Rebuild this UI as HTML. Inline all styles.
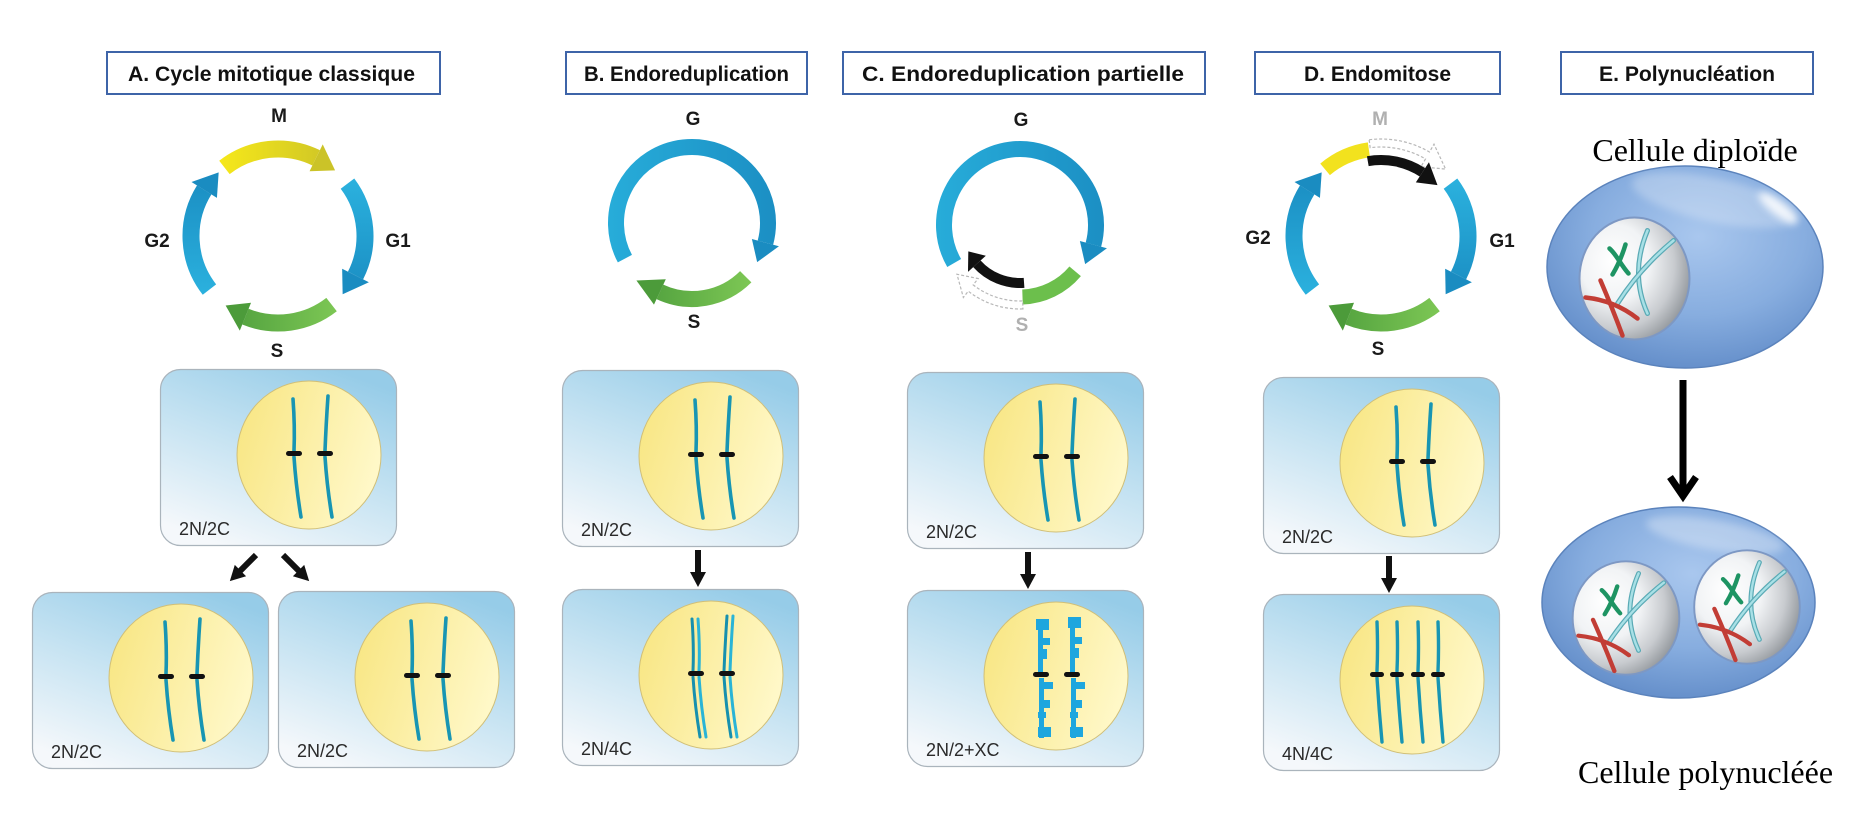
<!DOCTYPE html>
<html><head><meta charset="utf-8">
<style>
html,body{margin:0;padding:0;background:#fff;}
svg{display:block;}
.t{font-family:"Liberation Sans",Arial,sans-serif;font-weight:bold;font-size:21px;fill:#111;}
.lb{font-family:"Liberation Sans",Arial,sans-serif;font-weight:bold;font-size:19px;fill:#1a1a1a;text-anchor:middle;}
.cl{font-family:"Liberation Sans",Arial,sans-serif;font-size:18px;fill:#2a2a2a;}
.sf{font-family:"Liberation Serif","Times New Roman",serif;font-size:32px;fill:#000;}
</style></head><body>
<svg width="1864" height="835" viewBox="0 0 1864 835" xmlns="http://www.w3.org/2000/svg" xmlns:xlink="http://www.w3.org/1999/xlink">
<defs>
<linearGradient id="cellG" x1="0.75" y1="0" x2="0.25" y2="1">
<stop offset="0" stop-color="#96cce8"/><stop offset="0.5" stop-color="#c6e3f2"/><stop offset="1" stop-color="#f5f8fb"/>
</linearGradient>
<linearGradient id="nucG" x1="0" y1="0.2" x2="1" y2="0.5">
<stop offset="0" stop-color="#f8e683"/><stop offset="1" stop-color="#fff8c8"/>
</linearGradient>
<linearGradient id="yelA" gradientUnits="userSpaceOnUse" x1="220" y1="0" x2="335" y2="0">
<stop offset="0" stop-color="#f6e81a"/><stop offset="1" stop-color="#cdc427"/>
</linearGradient>
<linearGradient id="bluG1" gradientUnits="userSpaceOnUse" x1="0" y1="180" x2="0" y2="295">
<stop offset="0" stop-color="#2bb1de"/><stop offset="1" stop-color="#1a8dc2"/>
</linearGradient>
<linearGradient id="bluG2" gradientUnits="userSpaceOnUse" x1="0" y1="295" x2="0" y2="175">
<stop offset="0" stop-color="#2bb1de"/><stop offset="1" stop-color="#1a8dc2"/>
</linearGradient>
<linearGradient id="grnA" gradientUnits="userSpaceOnUse" x1="335" y1="0" x2="225" y2="0">
<stop offset="0" stop-color="#7cc654"/><stop offset="1" stop-color="#4f9f3d"/>
</linearGradient>
<linearGradient id="grnD" gradientUnits="userSpaceOnUse" x1="1438" y1="0" x2="1328" y2="0">
<stop offset="0" stop-color="#7cc654"/><stop offset="1" stop-color="#4f9f3d"/>
</linearGradient>
<linearGradient id="grnB" gradientUnits="userSpaceOnUse" x1="748" y1="0" x2="640" y2="0">
<stop offset="0" stop-color="#7cc654"/><stop offset="1" stop-color="#4f9f3d"/>
</linearGradient>
<linearGradient id="bluB" gradientUnits="userSpaceOnUse" x1="610" y1="0" x2="780" y2="0">
<stop offset="0" stop-color="#27acd9"/><stop offset="1" stop-color="#1b8ec3"/>
</linearGradient>
<linearGradient id="bluC" gradientUnits="userSpaceOnUse" x1="937" y1="0" x2="1110" y2="0">
<stop offset="0" stop-color="#27acd9"/><stop offset="1" stop-color="#1b8ec3"/>
</linearGradient>
<radialGradient id="cellE" cx="0.55" cy="0.35" r="0.65">
<stop offset="0" stop-color="#a9c7ee"/><stop offset="0.6" stop-color="#87addf"/><stop offset="1" stop-color="#6690cb"/>
</radialGradient>
<radialGradient id="nucE" cx="0.35" cy="0.4" r="0.7" fx="0.3" fy="0.35">
<stop offset="0" stop-color="#ffffff"/><stop offset="0.45" stop-color="#f1f3f5"/><stop offset="0.75" stop-color="#c8cbcf"/><stop offset="1" stop-color="#8e9398"/>
</radialGradient>
<filter id="blur" x="-50%" y="-50%" width="200%" height="200%"><feGaussianBlur stdDeviation="4"/></filter>

<g id="cb"><rect x="0.5" y="0.5" width="236" height="176" rx="20" fill="url(#cellG)" stroke="#aab4bc" stroke-width="1.2"/><ellipse cx="149" cy="86" rx="72" ry="74" fill="url(#nucG)" stroke="#d0bf78" stroke-width="1"/></g>
<g id="c2" fill="none" stroke="#1895b3" stroke-width="3.6" stroke-linecap="round">
<path d="M133,30 Q135,57 134,82"/><path d="M134,88 Q136,118 141,148"/>
<path d="M168,27 Q166,56 165,82"/><path d="M165,88 Q167,118 172,148"/>
</g>
<g id="cen2" fill="#111"><rect x="126" y="82" width="16" height="5" rx="2.5"/><rect x="157" y="82" width="16" height="5" rx="2.5"/></g>

<g id="c4b" fill="none" stroke-linecap="round" stroke-width="3">
<path d="M130,30 Q132,57 131,82" stroke="#1790ae"/><path d="M136,30 Q138,57 137,82" stroke="#2ab4d6"/>
<path d="M131,88 Q133,118 138,148" stroke="#1790ae"/><path d="M137,88 Q139,118 144,148" stroke="#2ab4d6"/>
<path d="M165,27 Q163,56 162,82" stroke="#1790ae"/><path d="M171,27 Q169,56 168,82" stroke="#2ab4d6"/>
<path d="M162,88 Q164,118 169,148" stroke="#1790ae"/><path d="M168,88 Q170,118 175,148" stroke="#2ab4d6"/>
</g>

<g id="cxc" fill="#1ea6de">
<rect x="131" y="30" width="5" height="52"/><rect x="129" y="29" width="13" height="11"/><rect x="131" y="48" width="12" height="7"/><rect x="131" y="59" width="9" height="10"/>
<rect x="132" y="88" width="5" height="60"/><rect x="132" y="92" width="14" height="7"/><rect x="132" y="110" width="11" height="8"/><rect x="131" y="122" width="8" height="6"/><rect x="131" y="137" width="13" height="10"/>
<rect x="163" y="28" width="5" height="54"/><rect x="161" y="27" width="13" height="11"/><rect x="163" y="47" width="12" height="7"/><rect x="163" y="58" width="9" height="10"/>
<rect x="164" y="88" width="5" height="60"/><rect x="164" y="92" width="14" height="7"/><rect x="164" y="110" width="11" height="8"/><rect x="163" y="122" width="8" height="6"/><rect x="163" y="137" width="13" height="10"/>
</g>

<g id="c4d">
<g fill="none" stroke="#1895b3" stroke-width="3.4" stroke-linecap="round">
<path d="M114,28 Q115,55 114,77"/><path d="M114,84 Q116,116 119,148"/>
<path d="M134,28 Q135,55 134,77"/><path d="M134,84 Q136,116 139,148"/>
<path d="M155,28 Q156,55 155,77"/><path d="M155,84 Q157,116 160,148"/>
<path d="M175,28 Q176,55 175,77"/><path d="M175,84 Q177,116 180,148"/>
</g>
<g fill="#111"><rect x="107" y="78" width="14" height="5" rx="2.5"/><rect x="127" y="78" width="14" height="5" rx="2.5"/><rect x="148" y="78" width="14" height="5" rx="2.5"/><rect x="168" y="78" width="14" height="5" rx="2.5"/></g>
</g>

<g id="ech" fill="none" stroke-linecap="round">
<path d="M13,-48 Q-5,-5 13,35" stroke="#5aaab5" stroke-width="5"/>
<path d="M13,-48 Q-5,-5 13,35" stroke="#a8e0e6" stroke-width="2.5"/>
<path d="M39,-38 Q5,-10 -17,25" stroke="#5aaab5" stroke-width="5"/>
<path d="M39,-38 Q5,-10 -17,25" stroke="#a8e0e6" stroke-width="2.5"/>
<path d="M-49,19 Q-20,22 3,40" stroke="#c23d35" stroke-width="4.5"/>
<path d="M-34,2 Q-22,30 -12,57" stroke="#c23d35" stroke-width="4.5"/>
<path d="M-25,-30 C-18,-24 -14,-14 -6,-5" stroke="#1e9463" stroke-width="4.5"/>
<path d="M-9,-34 C-12,-24 -16,-14 -22,-4" stroke="#1e9463" stroke-width="4.5"/>
</g>

<g id="darr"><rect x="-3" y="0" width="6" height="24"/><polygon points="-8,22 8,22 0,37"/></g>
</defs>

<!-- Title boxes -->
<g fill="#fff" stroke="#3e64a8" stroke-width="2">
<rect x="107" y="52" width="333" height="42"/>
<rect x="566" y="52" width="241" height="42"/>
<rect x="843" y="52" width="362" height="42"/>
<rect x="1255" y="52" width="245" height="42"/>
<rect x="1561" y="52" width="252" height="42"/>
</g>
<text class="t" x="128" y="81" textLength="287" lengthAdjust="spacingAndGlyphs">A. Cycle mitotique classique</text>
<text class="t" x="584" y="81" textLength="205" lengthAdjust="spacingAndGlyphs">B. Endoreduplication</text>
<text class="t" x="862" y="81" textLength="322" lengthAdjust="spacingAndGlyphs">C. Endoreduplication partielle</text>
<text class="t" x="1304" y="81" textLength="147" lengthAdjust="spacingAndGlyphs">D. Endomitose</text>
<text class="t" x="1599" y="81" textLength="176" lengthAdjust="spacingAndGlyphs">E. Polynucléation</text>

<!-- Cycle A -->
<g fill="none" stroke-width="17">
<path d="M224.43,167.44 A87,87 0 0 1 316.14,157.80" stroke="url(#yelA)"/>
<path d="M347.48,183.64 A87,87 0 0 1 355.52,275.50" stroke="url(#bluG1)"/>
<path d="M331.57,304.56 A87,87 0 0 1 245.41,316.67" stroke="url(#grnA)"/>
<path d="M209.44,289.56 A87,87 0 0 1 204.22,189.90" stroke="url(#bluG2)"/>
</g>
<polygon points="322.72,144.32 335.08,170.34 309.56,171.29" fill="#cbc328"/>
<polygon points="368.88,282.31 342.65,294.21 342.15,268.69" fill="#1a8cc1"/>
<polygon points="239.79,330.57 225.64,305.48 251.03,302.76" fill="#4c9b3a"/>
<polygon points="191.50,181.95 218.67,172.37 216.94,197.85" fill="#1a8cc1"/>
<text class="lb" x="279" y="122">M</text>
<text class="lb" x="157" y="247">G2</text>
<text class="lb" x="398" y="247">G1</text>
<text class="lb" x="277" y="357">S</text>

<!-- Cycle B -->
<path d="M624.90,258.68 A76,76 0 1 1 765.41,242.67" fill="none" stroke="url(#bluB)" stroke-width="16"/>
<polygon points="778.93,246.29 757.15,262.14 751.89,239.05" fill="#1a8cc1"/>
<path d="M745.74,276.74 A76,76 0 0 1 659.88,291.88" fill="none" stroke="url(#grnB)" stroke-width="16"/>
<polygon points="653.97,304.57 636.42,280.54 665.80,279.19" fill="#4c9b3a"/>
<text class="lb" x="693" y="125">G</text>
<text class="lb" x="694" y="328">S</text>

<!-- Cycle C -->
<path d="M954.18,263 A76,76 0 1 1 1093.41,244.67" fill="none" stroke="url(#bluC)" stroke-width="16"/>
<polygon points="1106.93,248.29 1085.15,264.14 1079.89,241.05" fill="#1a8cc1"/>
<path d="M1075.15,271.28 A72,72 0 0 1 1022.51,296.96" fill="none" stroke="#6cbf4c" stroke-width="15"/>
<path d="M1022.93,308.95 A84,84 0 0 1 968.28,291.19 L963.36,297.50 L956.96,274.26 L978.13,278.58 L973.21,284.89 A76,76 0 0 0 1022.65,300.95 Z" fill="#fff" stroke="#b8b8b8" stroke-width="1.2" stroke-dasharray="3 2"/>
<path d="M1024.05,282.86 A58,58 0 0 1 976.90,263.81" fill="none" stroke="#111" stroke-width="10"/>
<polygon points="967.98,271.84 968.32,251.33 985.82,255.78" fill="#111"/>
<text class="lb" x="1021" y="126">G</text>
<text class="lb" x="1022" y="331" style="fill:#b0b0b0">S</text>

<!-- Cycle D -->
<g fill="none" stroke-width="17">
<path d="M1450.48,183.64 A87,87 0 0 1 1458.52,275.50" stroke="url(#bluG1)"/>
<path d="M1434.57,304.56 A87,87 0 0 1 1348.41,316.67" stroke="url(#grnD)"/>
<path d="M1312.44,289.56 A87,87 0 0 1 1307.22,189.90" stroke="url(#bluG2)"/>
</g>
<polygon points="1471.88,282.31 1445.65,294.21 1445.15,268.69" fill="#1a8cc1"/>
<polygon points="1342.79,330.57 1328.64,305.48 1354.03,302.76" fill="#4c9b3a"/>
<polygon points="1294.50,181.95 1321.67,172.37 1319.94,197.85" fill="#1a8cc1"/>
<path d="M1325.08,169.36 A87,87 0 0 1 1368.89,149.85" fill="none" stroke="#f2e21e" stroke-width="15"/>
<path d="M1369.18,139.73 A97,97 0 0 1 1429.5,151.99 L1434.0,144.20 L1445.61,169.10 L1421.0,166.72 L1425.5,158.93 A89,89 0 0 0 1370.15,147.67 Z" fill="#fff" stroke="#b8b8b8" stroke-width="1.2" stroke-dasharray="3 2"/>
<path d="M1367.80,161.16 A76,76 0 0 1 1422.39,172.26" fill="none" stroke="#111" stroke-width="10"/>
<polygon points="1428.93,162.19 1437.48,185.15 1415.85,182.32" fill="#111"/>
<text class="lb" x="1380" y="125" style="fill:#b0b0b0">M</text>
<text class="lb" x="1258" y="244">G2</text>
<text class="lb" x="1502" y="247">G1</text>
<text class="lb" x="1378" y="355">S</text>

<!-- Cells A -->
<g transform="translate(160,369)"><use xlink:href="#cb"/><use xlink:href="#c2"/><use xlink:href="#cen2"/><text class="cl" x="19" y="166">2N/2C</text></g>
<g transform="translate(32,592)"><use xlink:href="#cb"/><use xlink:href="#c2"/><use xlink:href="#cen2"/><text class="cl" x="19" y="166">2N/2C</text></g>
<g transform="translate(278,591)"><use xlink:href="#cb"/><use xlink:href="#c2"/><use xlink:href="#cen2"/><text class="cl" x="19" y="166">2N/2C</text></g>
<g fill="#111">
<g transform="translate(256,555) rotate(45)"><use xlink:href="#darr"/></g>
<g transform="translate(283,555) rotate(-45)"><use xlink:href="#darr"/></g>
</g>

<!-- Cells B -->
<g transform="translate(562,370)"><use xlink:href="#cb"/><use xlink:href="#c2"/><use xlink:href="#cen2"/><text class="cl" x="19" y="166">2N/2C</text></g>
<g transform="translate(562,589)"><use xlink:href="#cb"/><use xlink:href="#c4b"/><use xlink:href="#cen2"/><text class="cl" x="19" y="166">2N/4C</text></g>
<g fill="#111" transform="translate(698,550)"><use xlink:href="#darr"/></g>

<!-- Cells C -->
<g transform="translate(907,372)"><use xlink:href="#cb"/><use xlink:href="#c2"/><use xlink:href="#cen2"/><text class="cl" x="19" y="166">2N/2C</text></g>
<g transform="translate(907,590)"><use xlink:href="#cb"/><use xlink:href="#cxc"/><use xlink:href="#cen2"/><text class="cl" x="19" y="166">2N/2+XC</text></g>
<g fill="#111" transform="translate(1028,552)"><use xlink:href="#darr"/></g>

<!-- Cells D -->
<g transform="translate(1263,377)"><use xlink:href="#cb"/><use xlink:href="#c2"/><use xlink:href="#cen2"/><text class="cl" x="19" y="166">2N/2C</text></g>
<g transform="translate(1263,594)"><use xlink:href="#cb"/><use xlink:href="#c4d"/><text class="cl" x="19" y="166">4N/4C</text></g>
<g fill="#111" transform="translate(1389,556)"><use xlink:href="#darr"/></g>

<!-- Panel E -->
<text class="sf" x="1695" y="161" text-anchor="middle">Cellule diploïde</text>
<ellipse cx="1685" cy="267" rx="138" ry="101" fill="url(#cellE)" stroke="#5b83bc" stroke-width="1.5"/>
<ellipse cx="1715" cy="200" rx="85" ry="22" fill="#fff" opacity="0.25" filter="url(#blur)" transform="rotate(12 1715 200)"/>
<ellipse cx="1778" cy="208" rx="24" ry="7" fill="#fff" opacity="0.85" filter="url(#blur)" transform="rotate(38 1778 208)"/>
<g transform="translate(1634.5,278.5)">
<ellipse cx="0" cy="0" rx="55" ry="61" fill="url(#nucE)" stroke="#7d98c4" stroke-width="2"/>
<use xlink:href="#ech"/>
</g>

<line x1="1683" y1="380" x2="1683" y2="494" stroke="#000" stroke-width="7"/>
<polyline points="1670,477 1683,496 1696,477" fill="none" stroke="#000" stroke-width="7" stroke-linejoin="miter"/>

<ellipse cx="1678.5" cy="602.5" rx="136.5" ry="95.5" fill="url(#cellE)" stroke="#5b83bc" stroke-width="1.5"/>
<ellipse cx="1715" cy="535" rx="70" ry="15" fill="#fff" opacity="0.3" filter="url(#blur)" transform="rotate(10 1715 535)"/>
<g transform="translate(1626,618) scale(0.97,0.93)">
<ellipse cx="0" cy="0" rx="55" ry="61" fill="url(#nucE)" stroke="#7d98c4" stroke-width="2"/>
<use xlink:href="#ech"/>
</g>
<g transform="translate(1747,607) scale(0.96,0.93)">
<ellipse cx="0" cy="0" rx="55" ry="61" fill="url(#nucE)" stroke="#7d98c4" stroke-width="2"/>
<use xlink:href="#ech"/>
</g>
<text class="sf" x="1578" y="783">Cellule polynucléée</text>
</svg>
</body></html>
